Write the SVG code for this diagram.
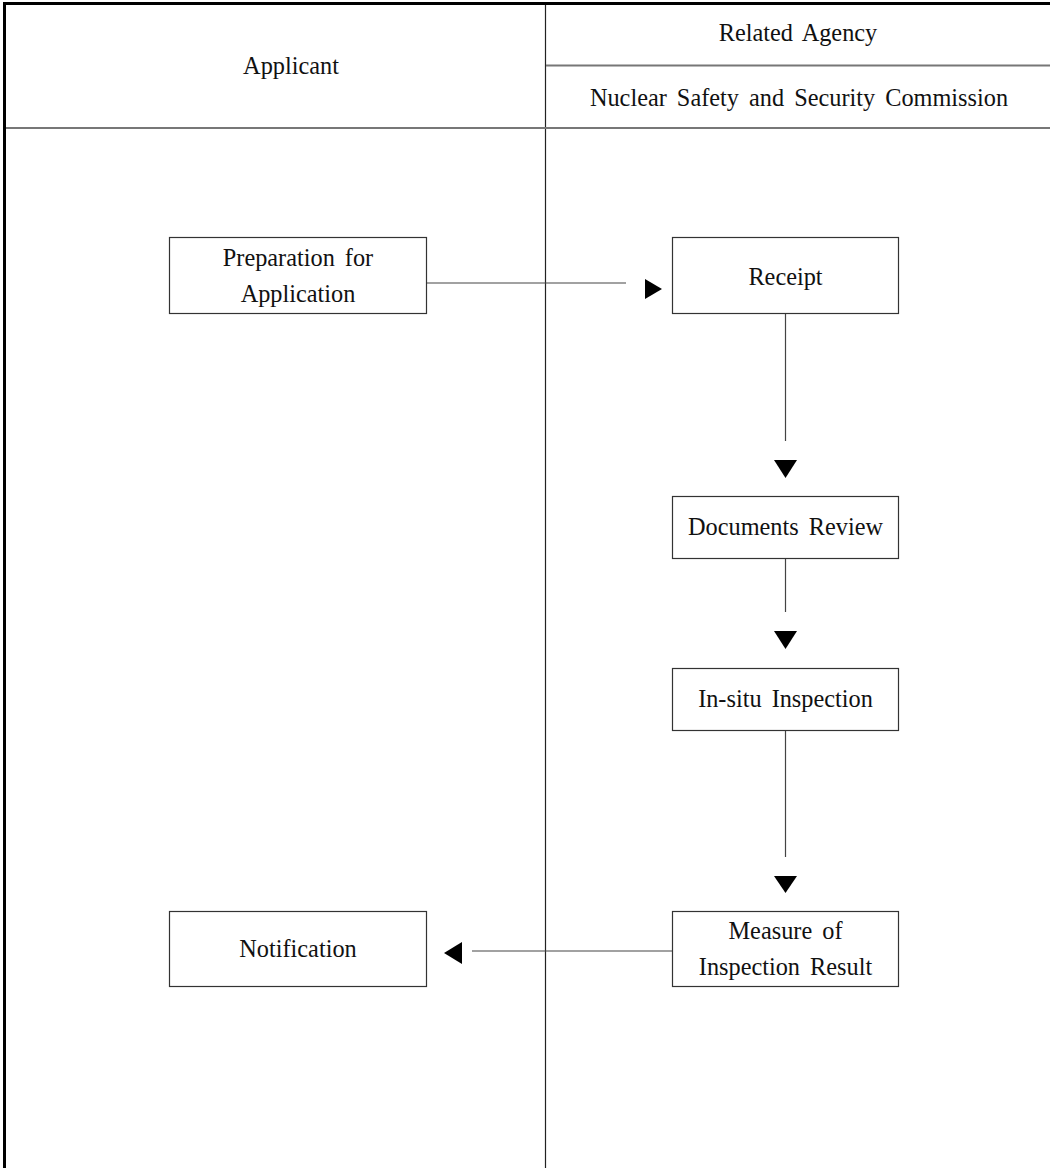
<svg xmlns="http://www.w3.org/2000/svg" width="1050" height="1168" viewBox="0 0 1050 1168">
  <style>
    .label { font-family: "Liberation Serif", "Times New Roman", serif; font-size: 24.3px; fill: #111; text-anchor: middle; word-spacing: 4px; }
    .box { fill: #fff; stroke: #333; stroke-width: 1.2; }
    .link { stroke: #444; stroke-width: 1.2; fill: none; }
    .head { fill: #000; }
    .rule { stroke: #777; stroke-width: 2; }
  </style>
  <rect x="0" y="0" width="1050" height="1168" fill="#fff"/>

  <!-- lane frame -->
  <g id="lanes">
    <line x1="4.5" y1="2" x2="4.5" y2="1168" stroke="#000" stroke-width="3"/>
    <line x1="3" y1="3.5" x2="1050" y2="3.5" stroke="#000" stroke-width="3"/>
    <line x1="545.5" y1="5" x2="545.5" y2="1168" stroke="#222" stroke-width="1.2"/>
    <line class="rule" x1="546" y1="65.5" x2="1050" y2="65.5"/>
    <line class="rule" x1="6" y1="128" x2="1050" y2="128"/>
    <text class="label" x="291" y="74">Applicant</text>
    <text class="label" x="798" y="41">Related Agency</text>
    <text class="label" x="799" y="106">Nuclear Safety and Security Commission</text>
  </g>

  <!-- connectors -->
  <g id="connectors">
    <line class="link" x1="426" y1="283" x2="626" y2="283"/>
    <polygon class="head" points="645,279 662,289 645,299"/>
    <line class="link" x1="785.5" y1="313" x2="785.5" y2="441"/>
    <polygon class="head" points="774,460 797,460 785.5,478"/>
    <line class="link" x1="785.5" y1="558" x2="785.5" y2="612"/>
    <polygon class="head" points="774,631 797,631 785.5,649"/>
    <line class="link" x1="785.5" y1="731" x2="785.5" y2="857"/>
    <polygon class="head" points="774,876 797,876 785.5,893"/>
    <line class="link" x1="672" y1="951" x2="472" y2="951"/>
    <polygon class="head" points="462,942 444,953 462,964"/>
  </g>

  <g id="preparation">
    <rect class="box" x="169.5" y="237.5" width="257" height="76"/>
    <text class="label" x="298" y="266">Preparation for</text>
    <text class="label" x="298" y="302">Application</text>
  </g>
  <g id="receipt">
    <rect class="box" x="672.5" y="237.5" width="226" height="76"/>
    <text class="label" x="785.5" y="285">Receipt</text>
  </g>
  <g id="documents-review">
    <rect class="box" x="672.5" y="496.5" width="226" height="62"/>
    <text class="label" x="785.5" y="535">Documents Review</text>
  </g>
  <g id="in-situ-inspection">
    <rect class="box" x="672.5" y="668.5" width="226" height="62"/>
    <text class="label" x="785.5" y="707">In-situ Inspection</text>
  </g>
  <g id="measure">
    <rect class="box" x="672.5" y="911.5" width="226" height="75"/>
    <text class="label" x="785.5" y="939">Measure of</text>
    <text class="label" x="785.5" y="975">Inspection Result</text>
  </g>
  <g id="notification">
    <rect class="box" x="169.5" y="911.5" width="257" height="75"/>
    <text class="label" x="298" y="957">Notification</text>
  </g>
</svg>
